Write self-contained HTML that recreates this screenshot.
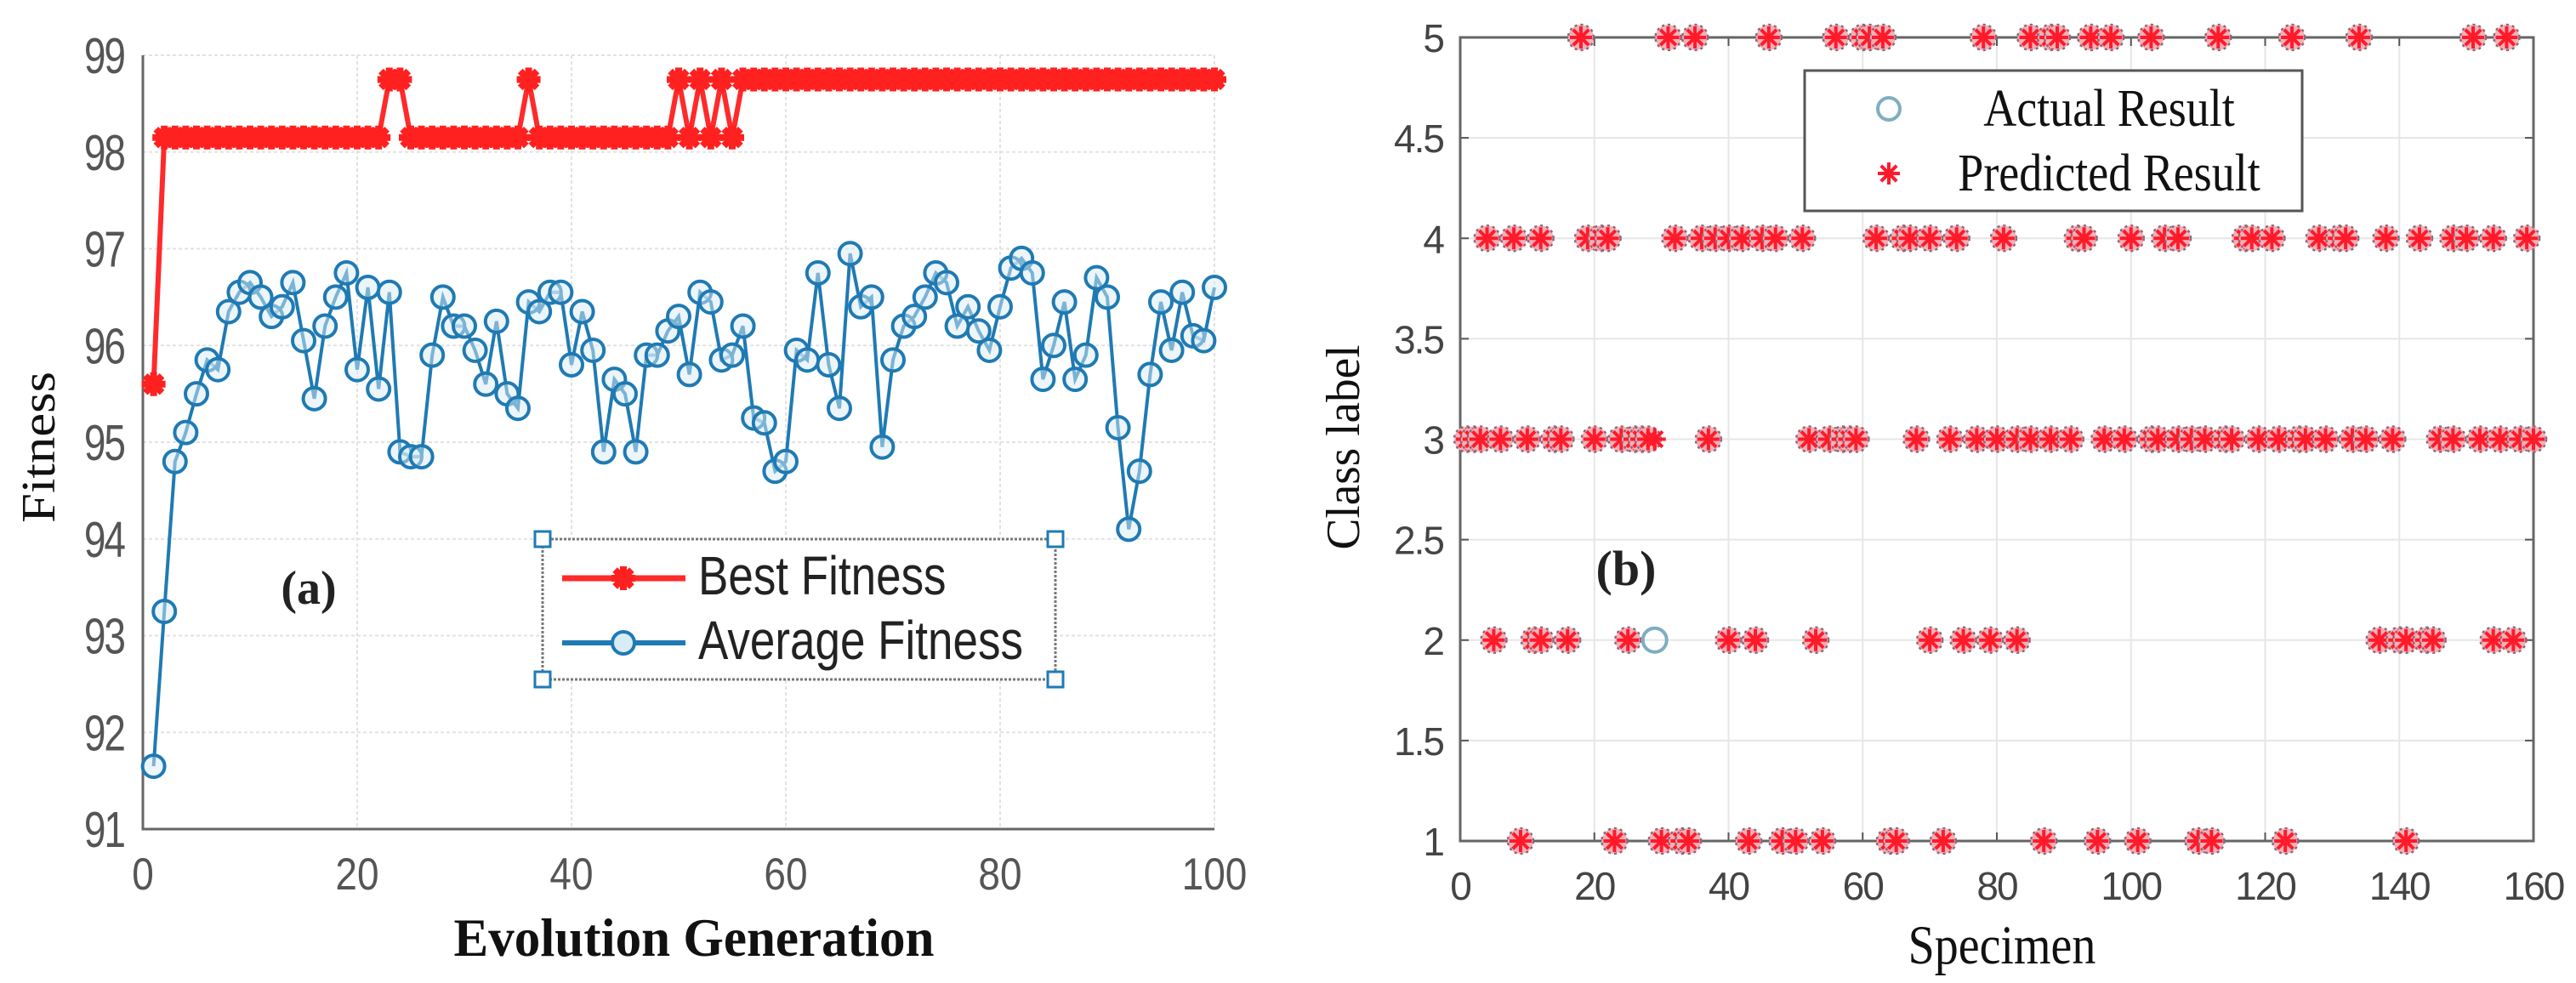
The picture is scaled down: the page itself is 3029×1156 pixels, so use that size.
<!DOCTYPE html>
<html><head><meta charset="utf-8">
<style>
html,body{margin:0;padding:0;background:#fff;overflow:hidden;}
svg{display:block;}
</style></head>
<body>
<svg id="fig" width="3029" height="1156" viewBox="0 0 3029 1156" xmlns="http://www.w3.org/2000/svg">
<g id="chartA"></g>
<g id="chartB"></g>
</svg>
<script>
// ---- Chart (a) data ----
const bestFitness = [95.6,98.15,98.15,98.15,98.15,98.15,98.15,98.15,98.15,98.15,98.15,98.15,98.15,98.15,98.15,98.15,98.15,98.15,98.15,98.15,98.15,98.15,98.75,98.75,98.15,98.15,98.15,98.15,98.15,98.15,98.15,98.15,98.15,98.15,98.15,98.75,98.15,98.15,98.15,98.15,98.15,98.15,98.15,98.15,98.15,98.15,98.15,98.15,98.15,98.75,98.15,98.75,98.15,98.75,98.15,98.75,98.75,98.75,98.75,98.75,98.75,98.75,98.75,98.75,98.75,98.75,98.75,98.75,98.75,98.75,98.75,98.75,98.75,98.75,98.75,98.75,98.75,98.75,98.75,98.75,98.75,98.75,98.75,98.75,98.75,98.75,98.75,98.75,98.75,98.75,98.75,98.75,98.75,98.75,98.75,98.75,98.75,98.75,98.75,98.75];
const avgFitness = [91.65,93.25,94.8,95.1,95.5,95.85,95.75,96.35,96.55,96.65,96.5,96.3,96.4,96.65,96.05,95.45,96.2,96.5,96.75,95.75,96.6,95.55,96.55,94.9,94.85,94.85,95.9,96.5,96.2,96.2,95.95,95.6,96.25,95.5,95.35,96.45,96.35,96.55,96.55,95.8,96.35,95.95,94.9,95.65,95.5,94.9,95.9,95.9,96.15,96.3,95.7,96.55,96.45,95.85,95.9,96.2,95.25,95.2,94.7,94.8,95.95,95.85,96.75,95.8,95.35,96.95,96.4,96.5,94.95,95.85,96.2,96.3,96.5,96.75,96.65,96.2,96.4,96.15,95.95,96.4,96.8,96.9,96.75,95.65,96.0,96.45,95.65,95.9,96.7,96.5,95.15,94.1,94.7,95.7,96.45,95.95,96.55,96.1,96.05,96.6];
const xTicksA = [0,20,40,60,80,100];
const yTicksA = [91,92,93,94,95,96,97,98,99];

// ---- Chart (b) data ----
const class5 = [18,31,35,46,56,60,61,63,78,85,88,89,94,97,103,113,124,134,151,156];
const class4 = [4,8,12,19,21,22,32,36,38,40,42,45,47,51,62,66,67,70,74,81,92,93,100,105,107,117,118,121,128,131,132,138,143,148,150,154,159];
const class3 = [1,2,3,6,10,14,15,20,24,26,27,28,37,52,55,57,58,59,68,73,77,80,83,85,88,91,96,99,103,104,107,109,111,114,115,119,122,125,126,129,133,135,139,146,148,152,155,158,160];
const class2 = [5,11,12,16,25,40,44,53,70,75,79,83,137,140,141,144,145,154,157];
const class1 = [9,23,30,33,34,43,48,50,54,64,65,72,87,95,101,110,112,123,141];
const missSpecimen = [29];
const missActual = [2];
const missPredicted = [3];
const xTicksB = [0,20,40,60,80,100,120,140,160];
const yTicksB = [1,1.5,2,2.5,3,3.5,4,4.5,5];

const NS = "http://www.w3.org/2000/svg";
function mk(tag, attrs, parent){
  const e = document.createElementNS(NS, tag);
  for (const k in attrs) e.setAttribute(k, attrs[k]);
  parent.appendChild(e); return e;
}
function starMarker(cx,cy,r,color,parent,w){
  const g = mk('g',{},parent);
  for(let k=0;k<4;k++){
    const a = k*Math.PI/4;
    mk('line',{x1:cx-r*Math.cos(a),y1:cy-r*Math.sin(a),x2:cx+r*Math.cos(a),y2:cy+r*Math.sin(a),stroke:color,'stroke-width':w},g);
  }
  return g;
}

// ===== Chart A =====
const A = document.getElementById('chartA');
const ax = {l:168, r:1428, t:65, b:975};
const xA = v => ax.l + (v-0)/(100-0)*(ax.r-ax.l);
const yA = v => ax.b - (v-91)/(99-91)*(ax.b-ax.t);

xTicksA.forEach(t=>{
  const g = mk('line',{x1:xA(t),x2:xA(t),y1:ax.t,y2:ax.b,stroke:'#e2e2e2','stroke-width':2,'stroke-dasharray':'4 3'},A);
  
  
  const lb = mk('text',{x:0,y:0,'text-anchor':'middle','font-family':'Liberation Sans, sans-serif','font-size':46,fill:'#555',transform:`translate(${xA(t)},1046) scale(1,1.15)`},A);
  lb.textContent = t;
  
  
});
yTicksA.forEach(t=>{
  const g = mk('line',{x1:ax.l,x2:ax.r,y1:yA(t),y2:yA(t),stroke:'#e2e2e2','stroke-width':2,'stroke-dasharray':'4 3'},A);
  
  
  const lb = mk('text',{x:0,y:0,'text-anchor':'end','font-family':'Liberation Sans, sans-serif','font-size':46,fill:'#555','letter-spacing':'-2',transform:`translate(146,${yA(t)+21}) scale(1,1.3)`},A);
  lb.textContent = t;
  
  
});
const boxA = mk('path',{d:`M${ax.l} ${ax.t} V${ax.b} H${ax.r}`,fill:'none',stroke:'#666','stroke-width':3},A);



const bestPts = bestFitness.map((v,i)=>`${xA(i+1)},${yA(v)}`).join(' ');
const bl = mk('polyline',{points:bestPts,fill:'none',stroke:'#ff2a2a','stroke-width':6},A);


bestFitness.forEach((v,i)=>{
  const m = starMarker(xA(i+1),yA(v),14,'#ff2020',A,8);
  
  
});
const avgPts = avgFitness.map((v,i)=>`${xA(i+1)},${yA(v)}`).join(' ');
const al = mk('polyline',{points:avgPts,fill:'none',stroke:'#1f7ab3','stroke-width':4},A);


avgFitness.forEach((v,i)=>{
  const m = mk('circle',{cx:xA(i+1),cy:yA(v),r:13,fill:'#d8ecf6','fill-opacity':0.5,stroke:'#1f7ab3','stroke-width':4},A);
  
  
});

const legA = mk('g',{},A);


mk('rect',{x:638,y:634,width:603,height:165,fill:'#fff',stroke:'#777','stroke-width':3,'stroke-dasharray':'3 2'},legA);
[[638,634],[1241,634],[638,799],[1241,799]].forEach(p=>{
  mk('rect',{x:p[0]-9,y:p[1]-9,width:18,height:18,fill:'#fff',stroke:'#1f7ab3','stroke-width':3},legA);
});
mk('line',{x1:661,x2:806,y1:680,y2:680,stroke:'#ff2a2a','stroke-width':7},legA);
starMarker(733,680,14,'#ff2020',legA,8);
const t1 = mk('text',{x:0,y:0,'font-family':'Liberation Sans, sans-serif','font-size':53,fill:'#222',transform:'translate(821,699) scale(1,1.2)'},legA);
t1.textContent='Best Fitness';


mk('line',{x1:661,x2:806,y1:756,y2:756,stroke:'#1f7ab3','stroke-width':6},legA);
mk('circle',{cx:733,cy:756,r:13,fill:'#d8ecf6',stroke:'#1f7ab3','stroke-width':4},legA);
const t2 = mk('text',{x:0,y:0,'font-family':'Liberation Sans, sans-serif','font-size':53,fill:'#222',transform:'translate(821,775) scale(1,1.2)'},legA);
t2.textContent='Average Fitness';



const la = mk('text',{x:363,y:710,'text-anchor':'middle','font-family':'Liberation Serif, serif','font-size':56,'font-weight':'bold',fill:'#222'},A);
la.textContent='(a)';


const xtA = mk('text',{x:816,y:1124,'text-anchor':'middle','font-family':'Liberation Serif, serif','font-size':64,'font-weight':'bold',fill:'#111',textLength:565,lengthAdjust:'spacingAndGlyphs'},A);
xtA.textContent='Evolution Generation';


const ytA = mk('text',{x:0,y:0,'text-anchor':'middle','font-family':'Liberation Serif, serif','font-size':56,fill:'#111',transform:'translate(64,526) rotate(-90)',textLength:178,lengthAdjust:'spacingAndGlyphs'},A);
ytA.textContent='Fitness';



// ===== Chart B =====
const B = document.getElementById('chartB');
const bx = {l:1717, r:2979, t:44, b:989};
const xB = v => bx.l + (v-0)/(160-0)*(bx.r-bx.l);
const yB = v => bx.b - (v-1)/(5-1)*(bx.b-bx.t);
xTicksB.forEach(t=>{
  const g = mk('line',{x1:xB(t),x2:xB(t),y1:bx.t,y2:bx.b,stroke:'#e6e6e6','stroke-width':2},B);
  
  
  mk('line',{x1:xB(t),x2:xB(t),y1:bx.b,y2:bx.b-10,stroke:'#555','stroke-width':2},B);
  mk('line',{x1:xB(t),x2:xB(t),y1:bx.t,y2:bx.t+10,stroke:'#555','stroke-width':2},B);
  const lb = mk('text',{x:xB(t),y:1058,'text-anchor':'middle','font-family':'Liberation Sans, sans-serif','font-size':46,fill:'#444','letter-spacing':'-2'},B);
  lb.textContent = t;
  
  
});
yTicksB.forEach(t=>{
  const g = mk('line',{x1:bx.l,x2:bx.r,y1:yB(t),y2:yB(t),stroke:'#e6e6e6','stroke-width':2},B);
  
  
  mk('line',{x1:bx.l,x2:bx.l+10,y1:yB(t),y2:yB(t),stroke:'#555','stroke-width':2},B);
  mk('line',{x1:bx.r,x2:bx.r-10,y1:yB(t),y2:yB(t),stroke:'#555','stroke-width':2},B);
  const lb = mk('text',{x:1697,y:yB(t)+17,'text-anchor':'end','font-family':'Liberation Sans, sans-serif','font-size':46,fill:'#444','letter-spacing':'-2'},B);
  lb.textContent = t;
  
  
});
const boxB = mk('rect',{x:bx.l,y:bx.t,width:bx.r-bx.l,height:bx.b-bx.t,fill:'none',stroke:'#666','stroke-width':3},B);



function predMarker(s,c){
  const g = mk('g',{},B);
  
  
  mk('circle',{cx:xB(s),cy:yB(c),r:15,fill:'#f7b0b8'},g);
  starMarker(xB(s),yB(c),13,'#ff1a2a',g,4);
  mk('circle',{cx:xB(s),cy:yB(c),r:15,fill:'none',stroke:'#8a6878','stroke-width':2.5,'stroke-dasharray':'3 4'},g);
}
function actualMarker(s,c){
  const m = mk('circle',{cx:xB(s),cy:yB(c),r:14,fill:'none',stroke:'#7eaec0','stroke-width':4},B);
  
  
}
[[class1,1],[class2,2],[class3,3],[class4,4],[class5,5]].forEach(([arr,c])=>{
  arr.forEach(s=>predMarker(s,c));
});
missSpecimen.forEach((s,i)=>{
  actualMarker(s,missActual[i]);
  const m = starMarker(xB(s),yB(missPredicted[i]),13,'#ff1a2a',B,4);
  
  
});

const legB = mk('g',{},B);


mk('rect',{x:2122,y:83,width:585,height:165,fill:'#fff',stroke:'#555','stroke-width':3},legB);
mk('circle',{cx:2221,cy:128,r:13,fill:'none',stroke:'#7eaec0','stroke-width':4},legB);
starMarker(2221,204,13,'#ff1a2a',legB,4);
const lt1 = mk('text',{x:0,y:0,'text-anchor':'middle','font-family':'Liberation Serif, serif','font-size':54,fill:'#111',transform:'translate(2480,148) scale(1,1.15)'},legB);
lt1.textContent='Actual Result';


const lt2 = mk('text',{x:0,y:0,'text-anchor':'middle','font-family':'Liberation Serif, serif','font-size':54,fill:'#111',transform:'translate(2480,224) scale(1,1.15)'},legB);
lt2.textContent='Predicted Result';



const lbB = mk('text',{x:1912,y:688,'text-anchor':'middle','font-family':'Liberation Serif, serif','font-size':58,'font-weight':'bold',fill:'#222'},B);
lbB.textContent='(b)';


const xtB = mk('text',{x:0,y:0,'text-anchor':'middle','font-family':'Liberation Serif, serif','font-size':56,fill:'#111',transform:'translate(2354,1133) scale(1,1.15)'},B);
xtB.textContent='Specimen';


const ytB = mk('text',{x:0,y:0,'text-anchor':'middle','font-family':'Liberation Serif, serif','font-size':56,fill:'#111',transform:'translate(1598,526) rotate(-90)',textLength:241,lengthAdjust:'spacingAndGlyphs'},B);
ytB.textContent='Class label';


</script>
</body></html>
